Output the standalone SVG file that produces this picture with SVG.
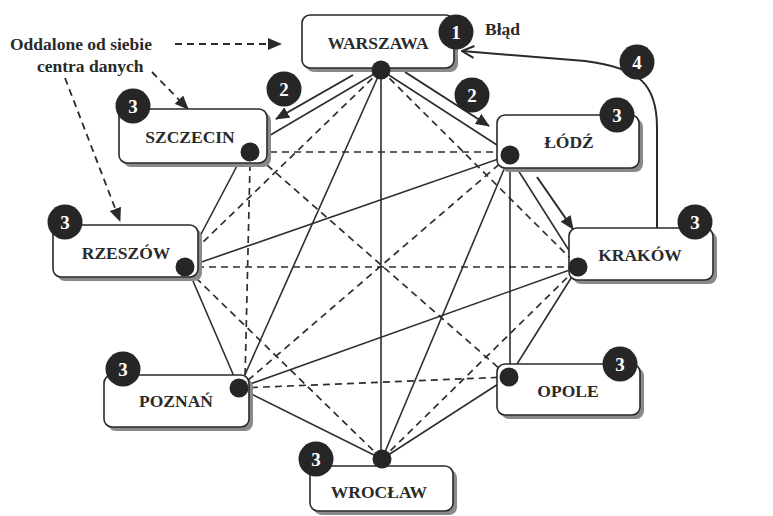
<svg xmlns="http://www.w3.org/2000/svg" width="773" height="516" viewBox="0 0 773 516">
<style>
.bg{fill:#fff}
.box{fill:#fff;stroke:#2a2a2a;stroke-width:1.6}
.shadow{fill:#8a8a8a}
.lbl{font-family:"Liberation Serif","Times New Roman",serif;font-weight:bold;font-size:17.5px;fill:#2a2a2a;text-anchor:middle}
.note{font-family:"Liberation Serif","Times New Roman",serif;font-weight:bold;font-size:17.5px;fill:#2a2a2a}
.badge{fill:#262626}
.btxt{font-family:"Liberation Serif","Times New Roman",serif;font-weight:bold;font-size:19px;fill:#fff;text-anchor:middle}
.dot{fill:#262626}
.s{stroke:#2e2e2e;stroke-width:1.6;fill:none}
.d{stroke:#2e2e2e;stroke-width:1.7;fill:none;stroke-dasharray:7 5}
.arr{stroke:#2a2a2a;stroke-width:2;fill:none;marker-end:url(#tri)}
.darr{stroke:#2a2a2a;stroke-width:1.8;fill:none;stroke-dasharray:7 5;marker-end:url(#tri)}
.oarr{stroke:#2a2a2a;stroke-width:2;fill:none;marker-end:url(#open)}
</style>
<defs>
<marker id="tri" viewBox="0 0 14 12" refX="13" refY="6" markerWidth="14" markerHeight="12" markerUnits="userSpaceOnUse" orient="auto">
<path d="M0,0 L14,6 L0,12 z" fill="#2a2a2a"/>
</marker>
<marker id="open" viewBox="0 0 14 14" refX="13" refY="7" markerWidth="14" markerHeight="14" markerUnits="userSpaceOnUse" orient="auto">
<path d="M1,1 L13,7 L1,13" fill="none" stroke="#2a2a2a" stroke-width="2"/>
</marker>
</defs>
<rect class="bg" x="0" y="0" width="773" height="516"/>

<g id="connectors">
<!-- solid links -->
<line class="s" x1="381" y1="70" x2="267" y2="137"/>
<line class="s" x1="381" y1="70" x2="239" y2="388"/>
<line class="s" x1="381" y1="70" x2="381" y2="459"/>
<line class="s" x1="381" y1="70" x2="497" y2="145"/>
<line class="s" x1="238" y1="164" x2="199" y2="238"/>
<line class="s" x1="193" y1="281" x2="239" y2="388"/>
<line class="s" x1="190" y1="266" x2="510" y2="155"/>
<line class="s" x1="239" y1="388" x2="382" y2="459"/>
<line class="s" x1="239" y1="388" x2="578" y2="267"/>
<line class="s" x1="382" y1="459" x2="510" y2="155"/>
<line class="s" x1="382" y1="459" x2="509" y2="377"/>
<line class="s" x1="518" y1="170" x2="570" y2="252"/>
<line class="s" x1="510" y1="168" x2="510" y2="364"/>
<line class="s" x1="578" y1="267" x2="517" y2="364"/>
<!-- dashed links -->
<line class="d" x1="381" y1="70" x2="200" y2="245"/>
<line class="d" x1="381" y1="70" x2="572" y2="260"/>
<line class="d" x1="250" y1="164" x2="245" y2="380"/>
<line class="d" x1="258" y1="152" x2="502" y2="152"/>
<line class="d" x1="267" y1="165" x2="509" y2="377"/>
<line class="d" x1="185" y1="267" x2="578" y2="267"/>
<line class="d" x1="196" y1="278" x2="382" y2="459"/>
<line class="d" x1="239" y1="388" x2="510" y2="155"/>
<line class="d" x1="239" y1="388" x2="509" y2="377"/>
<line class="d" x1="382" y1="459" x2="578" y2="267"/>
<!-- arrows -->
<line class="darr" x1="175" y1="44" x2="281" y2="44"/>
<line class="darr" x1="152" y1="72" x2="188" y2="109"/>
<line class="darr" x1="65" y1="78" x2="120" y2="221"/>
<line class="arr" x1="353" y1="75" x2="276" y2="119"/>
<line class="arr" x1="405" y1="72" x2="489" y2="126"/>
<line class="arr" x1="537" y1="177" x2="573" y2="229"/>
<path class="oarr" d="M657,228 L657,128 C657,84 640,68 585,61 L462,51"/>
</g>

<g id="node-warszawa">
<rect class="shadow" x="306" y="19" width="152" height="53" rx="8"/>
<rect class="box" x="302" y="15" width="152" height="53" rx="8"/>
<text class="lbl" x="378" y="49">WARSZAWA</text>
<circle class="dot" cx="381" cy="70" r="9.5"/>
</g>
<g id="node-szczecin">
<rect class="shadow" x="123" y="113" width="148" height="54" rx="8"/>
<rect class="box" x="119" y="109" width="148" height="54" rx="8"/>
<text class="lbl" x="190" y="143">SZCZECIN</text>
<circle class="dot" cx="250" cy="152" r="9.5"/>
</g>
<g id="node-rzeszow">
<rect class="shadow" x="57" y="229" width="145" height="52" rx="8"/>
<rect class="box" x="53" y="225" width="145" height="52" rx="8"/>
<text class="lbl" x="126" y="259">RZESZÓW</text>
<circle class="dot" cx="185" cy="267" r="9.5"/>
</g>
<g id="node-poznan">
<rect class="shadow" x="108" y="379" width="145" height="52" rx="8"/>
<rect class="box" x="104" y="375" width="145" height="52" rx="8"/>
<text class="lbl" x="176" y="407">POZNAŃ</text>
<circle class="dot" cx="239" cy="388" r="9.5"/>
</g>
<g id="node-wroclaw">
<rect class="shadow" x="314" y="470" width="143" height="45" rx="8"/>
<rect class="box" x="310" y="466" width="143" height="45" rx="8"/>
<text class="lbl" x="379" y="498">WROCŁAW</text>
<circle class="dot" cx="382" cy="459" r="9.5"/>
</g>
<g id="node-lodz">
<rect class="shadow" x="501" y="119" width="142" height="53" rx="8"/>
<rect class="box" x="497" y="115" width="142" height="53" rx="8"/>
<text class="lbl" x="569" y="148">ŁÓDŹ</text>
<circle class="dot" cx="510" cy="155" r="9.5"/>
</g>
<g id="node-krakow">
<rect class="shadow" x="573" y="232" width="144" height="52" rx="8"/>
<rect class="box" x="569" y="228" width="144" height="52" rx="8"/>
<text class="lbl" x="640" y="261">KRAKÓW</text>
<circle class="dot" cx="578" cy="267" r="9.5"/>
</g>
<g id="node-opole">
<rect class="shadow" x="501" y="368" width="143" height="51" rx="8"/>
<rect class="box" x="497" y="364" width="143" height="51" rx="8"/>
<text class="lbl" x="568" y="397">OPOLE</text>
<circle class="dot" cx="509" cy="377" r="9.5"/>
</g>

<g id="badges">
<circle class="badge" cx="456" cy="32" r="17.5"/><text class="btxt" x="456" y="39">1</text>
<circle class="badge" cx="284" cy="89" r="17.5"/><text class="btxt" x="284" y="96">2</text>
<circle class="badge" cx="472" cy="95" r="17.5"/><text class="btxt" x="472" y="102">2</text>
<circle class="badge" cx="637" cy="62" r="17.5"/><text class="btxt" x="637" y="69">4</text>
<circle class="badge" cx="133" cy="106" r="17.5"/><text class="btxt" x="133" y="113">3</text>
<circle class="badge" cx="65" cy="222" r="17.5"/><text class="btxt" x="65" y="229">3</text>
<circle class="badge" cx="123" cy="369" r="17.5"/><text class="btxt" x="123" y="376">3</text>
<circle class="badge" cx="316" cy="459" r="17.5"/><text class="btxt" x="316" y="466">3</text>
<circle class="badge" cx="617" cy="115" r="17.5"/><text class="btxt" x="617" y="122">3</text>
<circle class="badge" cx="695" cy="222" r="17.5"/><text class="btxt" x="695" y="229">3</text>
<circle class="badge" cx="620" cy="364" r="17.5"/><text class="btxt" x="620" y="371">3</text>
</g>

<g id="labels">
<text class="note" x="10" y="50">Oddalone od siebie</text>
<text class="note" x="37" y="72">centra danych</text>
<text class="note" x="485" y="35">Błąd</text>
</g>
</svg>
